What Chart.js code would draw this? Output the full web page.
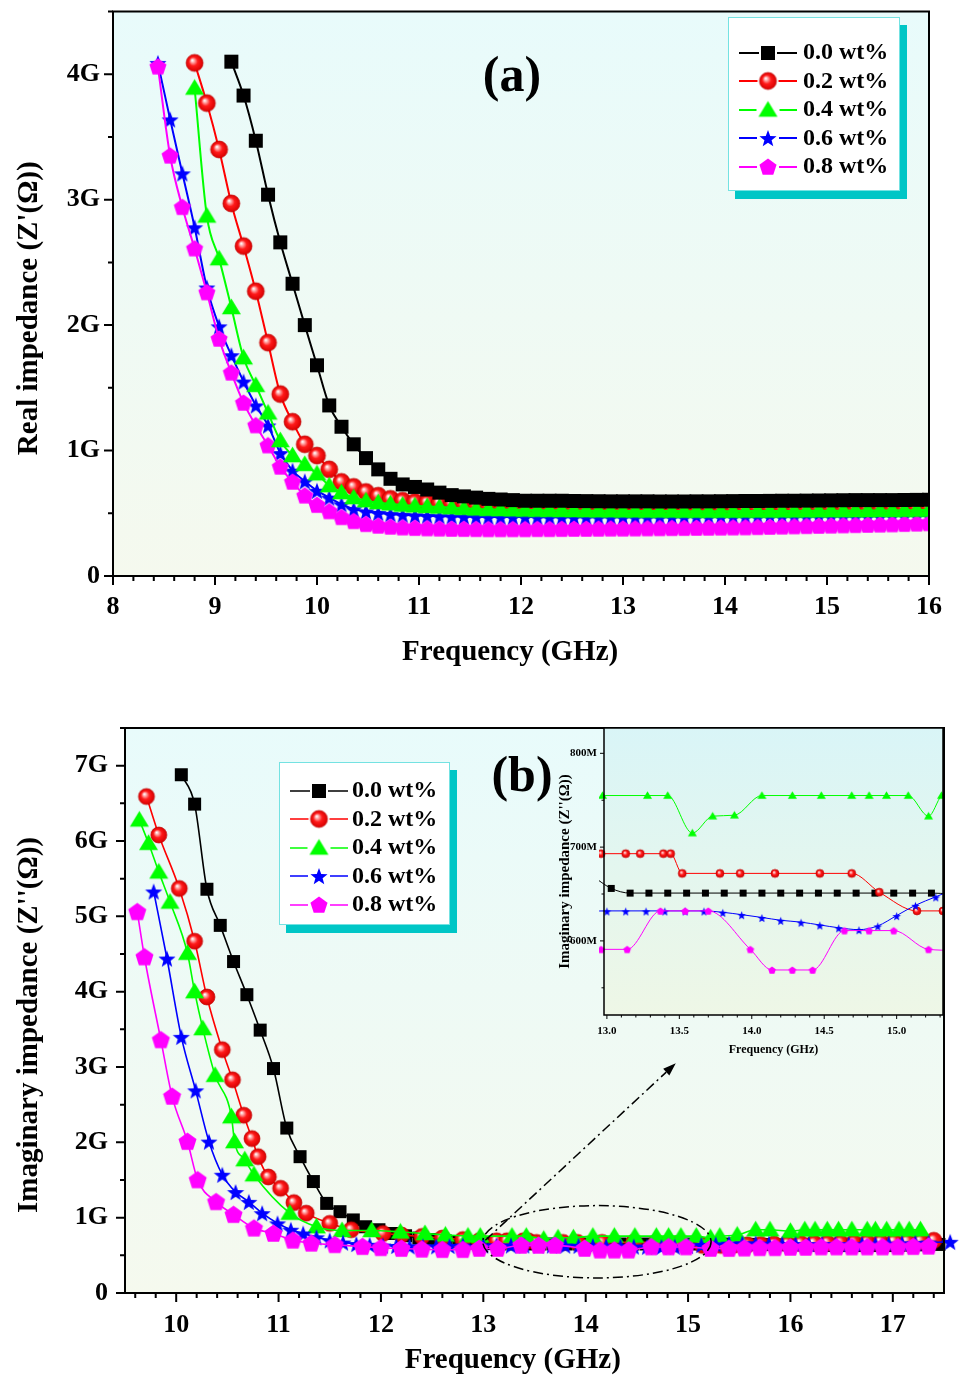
<!DOCTYPE html>
<html><head><meta charset="utf-8">
<script src="https://cdn.jsdelivr.net/npm/chart.js@4.4.1/dist/chart.umd.min.js"></script>
<style>
html,body{margin:0;padding:0;background:#fff;width:962px;height:1375px;overflow:hidden;}
canvas{position:absolute;}
.leg{position:absolute;box-sizing:border-box;background:#fff;border:1.5px solid #74e2e2;box-shadow:7px 8px 0 #00c6c6;}
.row{position:absolute;height:29px;line-height:29px;font:bold 24px 'Liberation Serif',serif;color:#000;white-space:nowrap;}
.panel{position:absolute;font:bold 50px/50px 'Liberation Serif',serif;color:#000;transform:translateX(-50%);white-space:nowrap;}
</style></head><body>
<canvas id="cA" width="962" height="680" style="left:0;top:0"></canvas>
<canvas id="cB" width="962" height="695" style="left:0;top:680px"></canvas>
<canvas id="cI" width="412" height="342" style="left:550px;top:720px"></canvas>
<div class="panel" style="left:512px;top:49px">(a)</div>
<div class="panel" style="left:522px;top:749px">(b)</div>
<div class="leg" style="left:728px;top:17px;width:172px;height:174px"></div>
<div class="leg" style="left:279px;top:762px;width:171px;height:163px"></div>
<div id="legends"></div>
<script>
// ---------- DATA ----------
const SERIES_NAMES = ['0.0 wt%', '0.2 wt%', '0.4 wt%', '0.6 wt%', '0.8 wt%'];

// (a) Real impedance, GΩ, shared frequency grid (GHz)
const FREQ_A = [8.44,8.56,8.68,8.80,8.92,9.04,9.16,9.28,9.40,9.52,9.64,9.76,9.88,10.00,10.12,10.24,10.36,10.48,10.60,10.72,10.84,10.96,11.08,11.20,11.32,11.44,11.56,11.68,11.80,11.92,12.04,12.16,12.28,12.40,12.52,12.64,12.76,12.88,13.00,13.12,13.24,13.36,13.48,13.60,13.72,13.84,13.96,14.08,14.20,14.32,14.44,14.56,14.68,14.80,14.92,15.04,15.16,15.28,15.40,15.52,15.64,15.76,15.88,16.00];
const ZRE_00 = [null,null,null,null,null,null,4.10,3.83,3.47,3.04,2.66,2.33,2.00,1.68,1.36,1.19,1.05,0.94,0.85,0.775,0.73,0.71,0.69,0.665,0.645,0.635,0.625,0.615,0.61,0.605,0.60,0.60,0.60,0.60,0.598,0.597,0.596,0.595,0.595,0.595,0.595,0.594,0.594,0.594,0.595,0.595,0.596,0.597,0.598,0.598,0.599,0.60,0.60,0.601,0.602,0.603,0.604,0.605,0.605,0.605,0.605,0.606,0.607,0.608];
const ZRE_02 = [null,null,null,4.09,3.77,3.40,2.97,2.63,2.27,1.86,1.45,1.23,1.05,0.96,0.85,0.75,0.71,0.67,0.64,0.615,0.60,0.59,0.585,0.58,0.575,0.57,0.568,0.565,0.563,0.56,0.558,0.556,0.555,0.554,0.553,0.552,0.551,0.55,0.55,0.549,0.548,0.548,0.547,0.547,0.546,0.546,0.545,0.545,0.545,0.545,0.545,0.545,0.546,0.546,0.547,0.547,0.548,0.548,0.549,0.55,0.55,0.551,0.552,0.553];
const ZRE_04 = [null,null,null,3.89,2.87,2.53,2.14,1.74,1.52,1.30,1.08,0.96,0.89,0.815,0.72,0.665,0.625,0.60,0.585,0.575,0.565,0.56,0.555,0.55,0.545,0.54,0.535,0.532,0.53,0.528,0.526,0.525,0.524,0.523,0.522,0.521,0.52,0.52,0.519,0.519,0.518,0.518,0.518,0.517,0.517,0.517,0.517,0.517,0.518,0.518,0.518,0.519,0.519,0.52,0.52,0.521,0.521,0.522,0.522,0.523,0.523,0.524,0.525,0.526];
const ZRE_06 = [4.09,3.64,3.21,2.78,2.30,1.99,1.76,1.55,1.36,1.20,0.98,0.84,0.755,0.68,0.625,0.572,0.533,0.515,0.503,0.494,0.488,0.484,0.48,0.477,0.475,0.473,0.472,0.471,0.47,0.47,0.47,0.469,0.469,0.468,0.468,0.468,0.468,0.468,0.468,0.468,0.468,0.469,0.469,0.469,0.47,0.47,0.47,0.47,0.471,0.471,0.472,0.472,0.473,0.473,0.474,0.474,0.475,0.475,0.476,0.477,0.478,0.479,0.48,0.481];
const ZRE_08 = [4.06,3.35,2.94,2.61,2.26,1.89,1.62,1.38,1.20,1.04,0.87,0.75,0.64,0.565,0.515,0.468,0.436,0.413,0.40,0.392,0.386,0.382,0.379,0.377,0.375,0.374,0.373,0.372,0.372,0.372,0.372,0.373,0.373,0.374,0.375,0.375,0.376,0.377,0.377,0.378,0.379,0.38,0.381,0.382,0.383,0.384,0.385,0.386,0.387,0.389,0.391,0.393,0.395,0.397,0.399,0.401,0.403,0.405,0.407,0.409,0.411,0.414,0.417,0.42];

// (b) Imaginary impedance, GΩ, per series frequency (GHz)
const FB_00 = [10.05,10.18,10.30,10.43,10.56,10.69,10.82,10.95,11.08,11.21,11.34,11.47,11.60,11.73,11.85,11.98,12.11,12.24,12.37,12.50,12.63,12.76,12.89,13.03,13.16,13.29,13.42,13.55,13.68,13.81,13.94,14.07,14.20,14.33,14.46,14.59,14.72,14.85,14.98,15.11,15.24,15.37,15.50,15.63,15.76,15.89,16.02,16.15,16.28,16.41,16.54,16.67,16.80,16.93,17.06,17.19,17.32,17.45];
const ZIM_00 = [6.88,6.49,5.36,4.88,4.40,3.96,3.49,2.98,2.19,1.81,1.48,1.19,1.08,0.97,0.88,0.84,0.79,0.76,0.73,0.71,0.69,0.68,0.67,0.656,0.651,0.651,0.651,0.651,0.651,0.651,0.651,0.651,0.651,0.651,0.651,0.651,0.651,0.651,0.651,0.651,0.651,0.65,0.648,0.645,0.643,0.64,0.638,0.636,0.634,0.632,0.63,0.63,0.63,0.63,0.632,0.635,0.64,0.645];
const FB_02 = [9.71,9.83,10.03,10.18,10.30,10.45,10.55,10.66,10.74,10.80,10.90,11.02,11.15,11.27,11.50,11.71,12.02,12.20,12.40,12.60,12.80,12.96,13.13,13.23,13.39,13.44,13.52,13.78,13.92,14.16,14.47,14.69,14.88,15.14,15.32,15.45,15.58,15.71,15.84,15.97,16.10,16.23,16.36,16.49,16.62,16.75,16.88,17.01,17.14,17.27,17.40];
const ZIM_02 = [6.59,6.08,5.37,4.67,3.93,3.23,2.83,2.36,2.05,1.81,1.54,1.39,1.20,1.06,0.925,0.84,0.79,0.77,0.75,0.73,0.71,0.693,0.693,0.693,0.693,0.693,0.672,0.672,0.672,0.672,0.672,0.672,0.652,0.632,0.632,0.635,0.64,0.645,0.65,0.655,0.66,0.663,0.666,0.669,0.672,0.675,0.678,0.682,0.686,0.69,0.70];
const FB_04 = [9.64,9.73,9.83,9.94,10.11,10.18,10.26,10.38,10.54,10.57,10.67,10.76,11.11,11.37,11.62,11.91,12.19,12.43,12.63,12.85,12.97,13.28,13.42,13.59,13.73,13.88,14.07,14.28,14.48,14.69,14.81,14.93,15.08,15.22,15.31,15.48,15.66,15.80,16.00,16.14,16.24,16.36,16.47,16.60,16.75,16.83,16.94,17.06,17.16,17.27];
const ZIM_04 = [6.28,5.97,5.59,5.19,4.51,4.00,3.51,2.89,2.34,2.01,1.77,1.57,1.06,0.88,0.83,0.83,0.81,0.79,0.77,0.757,0.755,0.755,0.755,0.715,0.733,0.734,0.755,0.755,0.755,0.755,0.755,0.755,0.755,0.733,0.755,0.77,0.84,0.84,0.82,0.84,0.84,0.84,0.84,0.84,0.84,0.84,0.84,0.84,0.84,0.84];
const FB_06 = [9.78,9.91,10.05,10.19,10.32,10.45,10.58,10.71,10.84,10.99,11.12,11.24,11.37,11.50,11.63,11.76,11.89,12.02,12.15,12.28,12.41,12.54,12.67,12.80,13.00,13.13,13.27,13.40,13.54,13.67,13.80,13.93,14.07,14.20,14.34,14.47,14.60,14.74,14.87,15.00,15.13,15.27,15.40,15.53,15.66,15.79,15.92,16.05,16.18,16.31,16.44,16.57,16.70,16.83,16.96,17.09,17.22,17.35,17.56];
const ZIM_06 = [5.33,4.44,3.40,2.69,2.01,1.57,1.34,1.21,1.06,0.925,0.84,0.79,0.74,0.70,0.67,0.65,0.64,0.63,0.625,0.62,0.62,0.62,0.625,0.63,0.632,0.632,0.632,0.632,0.632,0.632,0.6305,0.628,0.625,0.622,0.62,0.617,0.614,0.612,0.616,0.627,0.638,0.647,0.655,0.66,0.66,0.655,0.65,0.65,0.65,0.65,0.65,0.65,0.65,0.652,0.655,0.66,0.665,0.67,0.68];
const FB_08 = [9.62,9.69,9.85,9.96,10.11,10.21,10.39,10.56,10.76,10.95,11.14,11.32,11.55,11.82,12.00,12.20,12.40,12.60,12.80,12.96,13.14,13.37,13.54,13.70,13.99,14.14,14.28,14.42,14.64,14.81,14.98,15.22,15.40,15.55,15.70,15.85,16.00,16.15,16.30,16.45,16.60,16.75,16.90,17.05,17.20,17.35];
const ZIM_08 = [5.06,4.46,3.36,2.61,2.01,1.50,1.21,1.04,0.86,0.79,0.70,0.66,0.64,0.615,0.60,0.59,0.58,0.575,0.575,0.591,0.591,0.632,0.632,0.632,0.591,0.569,0.569,0.569,0.611,0.611,0.611,0.591,0.59,0.595,0.60,0.60,0.605,0.605,0.61,0.61,0.61,0.61,0.61,0.612,0.615,0.62];

// tick labels
const X_TICKS_A = [8, 9, 10, 11, 12, 13, 14, 15, 16];
const Y_TICKS_A = [0, 1, 2, 3, 4];
const X_TICKS_B = [10, 11, 12, 13, 14, 15, 16, 17];
const Y_TICKS_B = [0, 1, 2, 3, 4, 5, 6, 7];
const X_TICKS_IN = [13.0, 13.5, 14.0, 14.5, 15.0];
const Y_TICKS_IN = [0.6, 0.7, 0.8];

// zoom annotation (data units: GHz, GΩ)
const ZOOM_ELLIPSE = { x: 14.11, y: 0.68, rx: 1.115, ry: 0.48 };
const ZOOM_ARROW = { x0: 13.02, y0: 0.70, x1: 14.88, y1: 3.05 };

// ---------- STYLE ----------
const FONT = "'Liberation Serif', 'Times New Roman', serif";
const COLORS = ['#000000', '#ff0000', '#00ff00', '#0000ff', '#ff00ff'];
const SHAPES = ['square', 'ball', 'triangle', 'star', 'pentagon'];

function marker(shape, s, color) {
  const pad = 2, W = Math.ceil(s + 2 * pad);
  const c = document.createElement('canvas'); c.width = W; c.height = W;
  const g = c.getContext('2d'); const cx = W / 2, cy = W / 2, r = s / 2;
  g.fillStyle = color;
  if (shape === 'square') {
    g.fillRect(cx - r, cy - r, s, s);
  } else if (shape === 'ball') {
    const grd = g.createRadialGradient(cx - r * 0.28, cy - r * 0.32, r * 0.04, cx, cy, r);
    grd.addColorStop(0, '#ffffff'); grd.addColorStop(0.22, '#ff9a9a');
    grd.addColorStop(0.5, '#ff1a1a'); grd.addColorStop(1, '#d80000');
    g.fillStyle = grd; g.beginPath(); g.arc(cx, cy, r, 0, Math.PI * 2); g.fill();
    g.strokeStyle = '#c00000'; g.lineWidth = 0.7; g.stroke();
  } else if (shape === 'triangle') {
    g.beginPath(); g.moveTo(cx, cy - r * 0.95); g.lineTo(cx + r, cy + r * 0.72); g.lineTo(cx - r, cy + r * 0.72); g.closePath(); g.fill();
  } else if (shape === 'star') {
    g.beginPath();
    for (let k = 0; k < 10; k++) { const rr = k % 2 ? r * 0.42 : r; const a = -Math.PI / 2 + k * Math.PI / 5; g.lineTo(cx + rr * Math.cos(a), cy + 1 + rr * Math.sin(a)); }
    g.closePath(); g.fill();
  } else if (shape === 'pentagon') {
    g.beginPath();
    for (let k = 0; k < 5; k++) { const a = -Math.PI / 2 + k * 2 * Math.PI / 5; g.lineTo(cx + r * Math.cos(a), cy + 0.5 + r * Math.sin(a)); }
    g.closePath(); g.fill();
  }
  return c;
}

function makeDatasets(points, sizes, lw, orders, clip) {
  return SERIES_NAMES.map((name, k) => {
    const ds = {
      label: name, data: points[k], borderColor: COLORS[k], backgroundColor: COLORS[k],
      borderWidth: lw, pointStyle: marker(SHAPES[k], sizes[k], COLORS[k]),
      pointRadius: sizes[k] / 2, pointHoverRadius: sizes[k] / 2,
      cubicInterpolationMode: 'monotone', fill: false, order: orders[k]
    };
    if (clip !== undefined) ds.clip = clip;
    return ds;
  });
}

function framePlugin(o) {
  return {
    id: 'frame' + o.name,
    beforeDraw(chart) {
      const { ctx, chartArea: a } = chart;
      const g = ctx.createLinearGradient(0, a.top, 0, a.bottom);
      g.addColorStop(0, o.bgTop); g.addColorStop(1, o.bgBot);
      ctx.save(); ctx.fillStyle = g; ctx.fillRect(a.left, a.top, a.right - a.left, a.bottom - a.top); ctx.restore();
    },
    afterDatasetsDraw(chart) {
      const { ctx, chartArea: a } = chart; const x = chart.scales.x, y = chart.scales.y;
      ctx.save(); ctx.strokeStyle = '#000'; ctx.lineWidth = o.frameW;
      ctx.strokeRect(a.left, a.top, a.right - a.left, a.bottom - a.top);
      ctx.lineWidth = o.tickW; ctx.beginPath();
      const steps = (sc, st) => { const out = []; for (let k = Math.ceil(sc.min / st - 1e-6); k * st <= sc.max + 1e-6; k++) out.push(k * st); return out; };
      for (const v of steps(x, o.xMinor)) {
        const major = o.xMajor.some(m => Math.abs(m - v) < 1e-6);
        const px = x.getPixelForValue(v);
        ctx.moveTo(px, a.bottom); ctx.lineTo(px, a.bottom + (major ? o.majorLen : o.minorLen));
      }
      for (const v of steps(y, o.yMinor)) {
        const major = o.yMajor.some(m => Math.abs(m - v) < 1e-6);
        const py = y.getPixelForValue(v);
        ctx.moveTo(a.left, py); ctx.lineTo(a.left - (major ? o.majorLen : o.minorLen), py);
      }
      ctx.stroke(); ctx.restore();
    }
  };
}

const zoomMark = {
  id: 'zoomMark',
  afterDatasetsDraw(chart) {
    const { ctx } = chart; const x = chart.scales.x, y = chart.scales.y;
    const cx = x.getPixelForValue(ZOOM_ELLIPSE.x), cy = y.getPixelForValue(ZOOM_ELLIPSE.y);
    const rx = x.getPixelForValue(ZOOM_ELLIPSE.x + ZOOM_ELLIPSE.rx) - cx;
    const ry = cy - y.getPixelForValue(ZOOM_ELLIPSE.y + ZOOM_ELLIPSE.ry);
    ctx.save(); ctx.strokeStyle = '#000'; ctx.lineWidth = 1.5; ctx.setLineDash([10, 4, 2, 4]);
    ctx.beginPath(); ctx.ellipse(cx, cy, rx, ry, 0, 0, Math.PI * 2); ctx.stroke();
    const x0 = x.getPixelForValue(ZOOM_ARROW.x0), y0 = y.getPixelForValue(ZOOM_ARROW.y0);
    const x1 = x.getPixelForValue(ZOOM_ARROW.x1), y1 = y.getPixelForValue(ZOOM_ARROW.y1);
    const ang = Math.atan2(y1 - y0, x1 - x0), L = 13, W = 4.5;
    const bx = x1 - L * Math.cos(ang), by = y1 - L * Math.sin(ang);
    ctx.beginPath(); ctx.moveTo(x0, y0); ctx.lineTo(bx, by); ctx.stroke();
    ctx.setLineDash([]); ctx.fillStyle = '#000'; ctx.beginPath();
    ctx.moveTo(x1, y1); ctx.lineTo(bx + W * Math.sin(ang), by - W * Math.cos(ang)); ctx.lineTo(bx - W * Math.sin(ang), by + W * Math.cos(ang));
    ctx.closePath(); ctx.fill(); ctx.restore();
  }
};

function xAxis(min, max, ticks, height, fsize, pad, fmt, title, tsize, tpad) {
  return {
    type: 'linear', min, max,
    afterBuildTicks: s => { s.ticks = ticks.map(v => ({ value: v })); },
    afterFit: s => { s.height = height; s.paddingLeft = 0; s.paddingRight = 0; s.paddingTop = 0; s.paddingBottom = 0; },
    grid: { display: false, drawTicks: false }, border: { display: false },
    ticks: { autoSkip: false, maxRotation: 0, minRotation: 0, padding: pad, color: '#000',
      font: { family: FONT, size: fsize, weight: 'bold', lineHeight: 1 }, callback: fmt },
    title: { display: true, text: title, color: '#000', font: { family: FONT, size: tsize, weight: 'bold', lineHeight: 1 }, padding: { top: 0, bottom: tpad } }
  };
}
function yAxis(min, max, ticks, width, fsize, pad, fmt, title, tsize, tpad) {
  return {
    type: 'linear', min, max,
    afterBuildTicks: s => { s.ticks = ticks.map(v => ({ value: v })); },
    afterFit: s => { s.width = width; s.paddingLeft = 0; s.paddingRight = 0; s.paddingTop = 0; s.paddingBottom = 0; },
    grid: { display: false, drawTicks: false }, border: { display: false },
    ticks: { autoSkip: false, padding: pad, color: '#000',
      font: { family: FONT, size: fsize, weight: 'bold', lineHeight: 1 }, callback: fmt },
    title: { display: true, text: title, color: '#000', font: { family: FONT, size: tsize, weight: 'bold', lineHeight: 1 }, padding: { top: tpad, bottom: 0 } }
  };
}
const gFmt = v => (v === 0 ? '0' : v + 'G');
const baseOpts = { responsive: false, animation: false, devicePixelRatio: 1, events: [],
  plugins: { legend: { display: false }, tooltip: { enabled: false } } };

// ---------- CHART (a) ----------
const ZRE_ALL = [ZRE_00, ZRE_02, ZRE_04, ZRE_06, ZRE_08];
const ptsA = ZRE_ALL.map(arr => FREQ_A.map((f, i) => ({ x: f, y: arr[i] })).filter(p => p.y !== null));
new Chart(document.getElementById('cA'), {
  type: 'line',
  data: { datasets: makeDatasets(ptsA, [14, 17, 19, 18, 18], 2, [0, 2, 1, 4, 3]) },
  options: Object.assign({}, baseOpts, {
    layout: { padding: { left: 0, right: 33, top: 8, bottom: 0 } },
    scales: {
      x: xAxis(8, 16, X_TICKS_A, 104, 26, 18, v => String(v), 'Frequency (GHz)   ', 29, 12.5),
      y: yAxis(0, 4.5, Y_TICKS_A, 113, 26, 13, gFmt, "Real impedance (Z'(\u03A9))    ", 29, 15.5)
    }
  }),
  plugins: [framePlugin({ name: 'A', bgTop: '#e8fbfb', bgBot: '#f5f9ee', frameW: 2, tickW: 2, majorLen: 9, minorLen: 5,
    xMinor: 0.2, yMinor: 0.5, xMajor: X_TICKS_A, yMajor: Y_TICKS_A })]
});

// ---------- CHART (b) ----------
const FB_ALL = [FB_00, FB_02, FB_04, FB_06, FB_08];
const ZIM_ALL = [ZIM_00, ZIM_02, ZIM_04, ZIM_06, ZIM_08];
const ptsB = FB_ALL.map((fs, k) => fs.map((f, i) => ({ x: f, y: ZIM_ALL[k][i] })));
new Chart(document.getElementById('cB'), {
  type: 'line',
  data: { datasets: makeDatasets(ptsB, [13, 16, 19, 18, 19], 1.6, [4, 3, 2, 1, 0], false) },
  options: Object.assign({}, baseOpts, {
    layout: { padding: { left: 0, right: 18, top: 48, bottom: 0 } },
    scales: {
      x: xAxis(9.5, 17.5, X_TICKS_B, 82, 26, 19, v => String(v), 'Frequency (GHz)      ', 29, 0),
      y: yAxis(0, 7.5, Y_TICKS_B, 125, 26, 17, gFmt, "Imaginary impedance (Z''(\u03A9))    ", 29, 15.5)
    }
  }),
  plugins: [framePlugin({ name: 'B', bgTop: '#e8fbfb', bgBot: '#f5f9ee', frameW: 2, tickW: 2, majorLen: 9, minorLen: 5,
    xMinor: 0.2, yMinor: 0.5, xMajor: X_TICKS_B, yMajor: Y_TICKS_B }), zoomMark]
});

// ---------- INSET ----------
const ptsI = FB_ALL.map((fs, k) => fs.map((f, i) => ({ x: f, y: ZIM_ALL[k][i] })));
new Chart(document.getElementById('cI'), {
  type: 'line',
  data: { datasets: makeDatasets(ptsI, [7, 8, 9, 9, 8], 1, [4, 3, 2, 1, 0], { left: 5, top: 0, right: 0, bottom: 0 }) },
  options: Object.assign({}, baseOpts, {
    layout: { padding: { left: 0, right: 19, top: 8, bottom: 0 } },
    scales: {
      x: xAxis(12.98, 15.32, X_TICKS_IN, 47, 11, 11, v => v.toFixed(1), 'Frequency (GHz)', 12, 6),
      y: yAxis(0.521, 0.827, Y_TICKS_IN, 54, 11, 7, v => Math.round(v * 1000) + 'M', "Imaginary impedance (Z''(\u03A9))", 15, 7.5)
    }
  }),
  plugins: [framePlugin({ name: 'I', bgTop: '#d9f5f7', bgBot: '#eef7e6', frameW: 1.5, tickW: 1, majorLen: 4, minorLen: 2.5,
    xMinor: 0.1, yMinor: 0.05, xMajor: X_TICKS_IN, yMajor: Y_TICKS_IN })]
});

// ---------- LEGENDS ----------
function buildLegend(symLeft, textLeft, firstCenter, spacing, lw) {
  const host = document.getElementById('legends');
  const sizes = [14, 17, 19, 18, 18];
  SERIES_NAMES.forEach((name, k) => {
    const cy = firstCenter + k * spacing;
    const c = document.createElement('canvas'); c.width = 60; c.height = 24;
    c.style.left = symLeft + 'px'; c.style.top = Math.round(cy - 12) + 'px';
    const g = c.getContext('2d');
    g.strokeStyle = COLORS[k]; g.lineWidth = lw;
    const gap = sizes[k] / 2 + 2;
    g.beginPath(); g.moveTo(1, 12); g.lineTo(30 - gap, 12); g.moveTo(30 + gap, 12); g.lineTo(59, 12); g.stroke();
    const m = marker(SHAPES[k], sizes[k], COLORS[k]);
    g.drawImage(m, 30 - m.width / 2, 12 - m.height / 2);
    host.appendChild(c);
    const t = document.createElement('div'); t.className = 'row'; t.textContent = name;
    t.style.left = textLeft + 'px'; t.style.top = Math.round(cy - 14.5) + 'px';
    host.appendChild(t);
  });
}
buildLegend(738, 803, 52.5, 28.5, 2);
buildLegend(289, 352, 790.5, 28.6, 1.6);
</script>
</body></html>
